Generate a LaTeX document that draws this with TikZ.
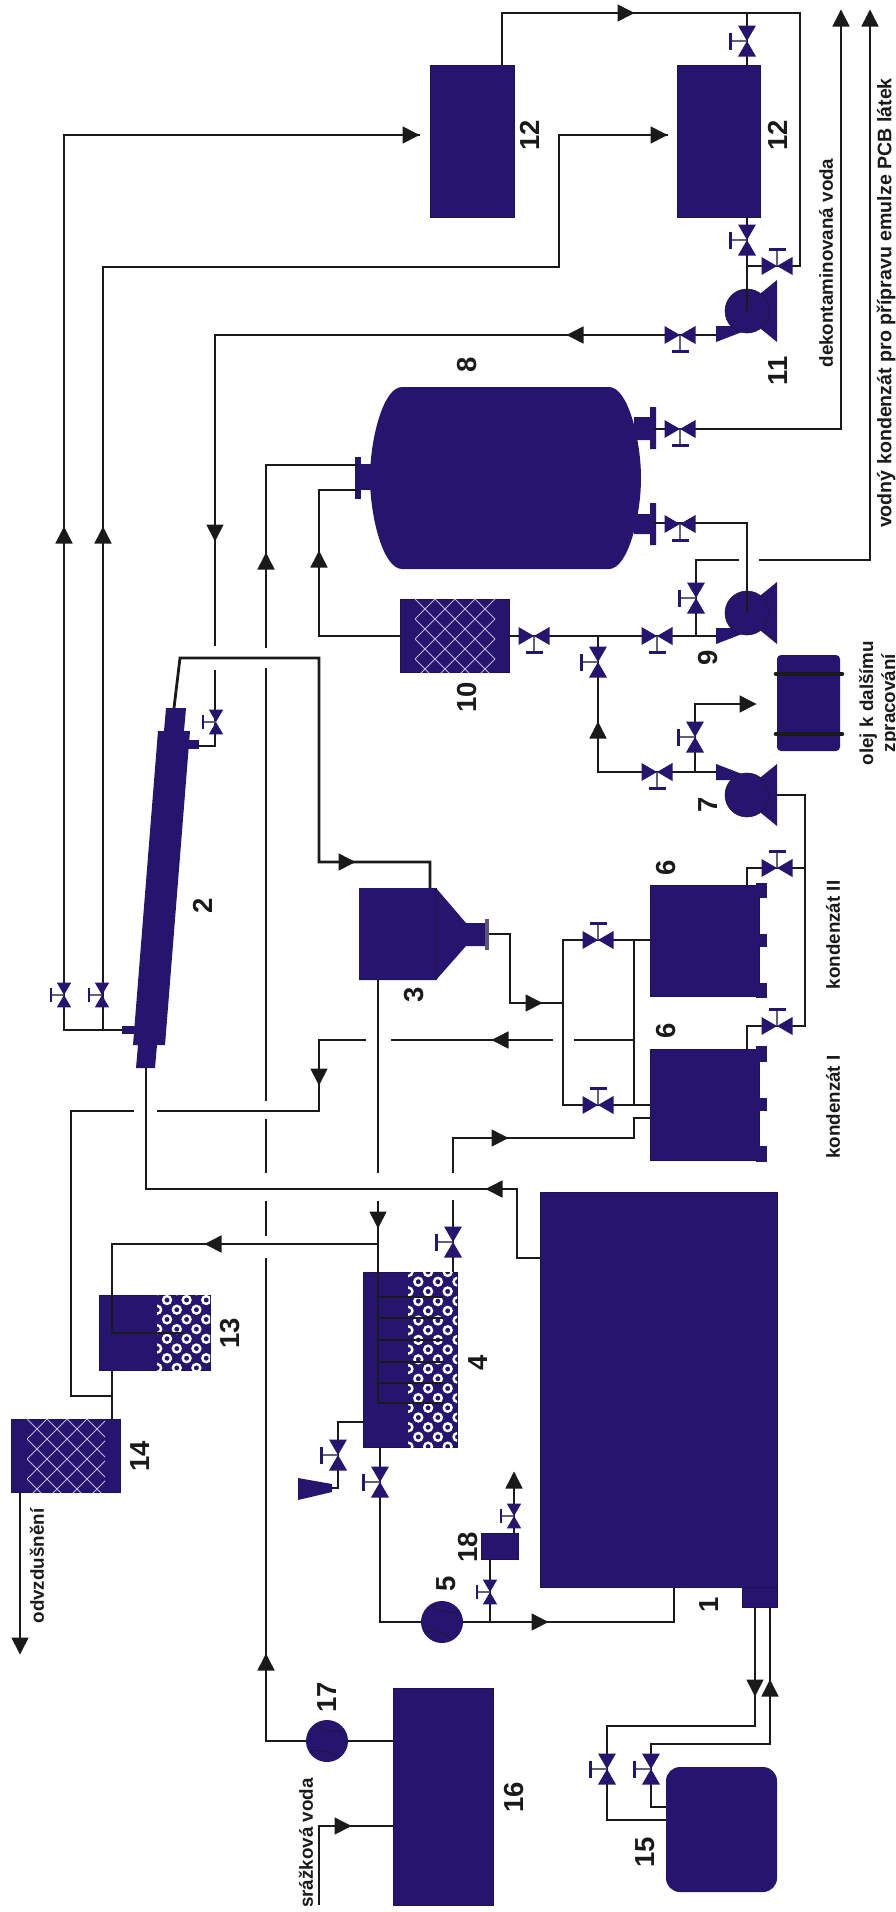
\documentclass[tikz,border=0pt]{standalone}
\usepackage{fontspec}
\setmainfont{Liberation Sans}
\definecolor{navy}{HTML}{26156E}
\definecolor{ink}{HTML}{1A1A1A}
\definecolor{mesh}{HTML}{BDB7E2}
\tikzset{
  pipe/.style={draw=ink,line width=2.8pt,line join=miter},
  tankbox/.style={fill=navy,draw=navy!80!black,line width=.6pt,inner sep=0pt,outer sep=0pt},
  num/.style={font=\bfseries\fontsize{27.5}{27.5}\selectfont,text=ink,rotate=90,inner sep=0pt},
  captext/.style={font=\bfseries\fontsize{18.8}{22}\selectfont,text=ink,rotate=90,inner sep=0pt,align=center},
}
% name, x1, y1, x2, y2
\newcommand\tank[5]{%
  \pgfmathsetmacro\tw{#4-#2}\pgfmathsetmacro\th{#5-#3}%
  \pgfmathsetmacro\tcx{(#2+#4)/2}\pgfmathsetmacro\tcy{(#3+#5)/2}%
  \node[tankbox,minimum width=\tw pt,minimum height=\th pt] (#1) at (\tcx,\tcy) {};}
% name, x, y, rotation, scale
\newcommand\valve[5]{%
  \begin{scope}[shift={(#2,#3)},rotate=#4,scale=#5]
    \coordinate (#1) at (0,0);
    \draw[line width=1.2pt,draw=gray!70!navy] (0,0) -- (-16,0);
    \fill[navy] (-9,-15.5) -- (9,-15.5) -- (0,0) -- cycle;
    \fill[navy] (-9,15.5) -- (9,15.5) -- (0,0) -- cycle;
    \fill[navy] (-18,-8.5) rectangle (-15,8.5);
  \end{scope}}
% name, x, y, mirror(1 or -1)
\newcommand\pump[4]{%
  \begin{scope}[shift={(#2,#3)},yscale=#4]
    \coordinate (#1) at (0,0);
    \fill[navy] (30,-31) -- (30,31) -- (-8,0) -- cycle;
    \fill[navy] (-31,15) -- (-15,15) -- (-5,21) -- (-31,31) -- cycle;
    \fill[navy] (0,0) circle (22);
    \draw[ink!60!navy,line width=.6pt] (0,0) circle (22);
  \end{scope}}
% x, y, angle (0 right, 90 down in the picture)
\newcommand\arr[3]{\begin{scope}[shift={(#1,#2)},rotate=-#3]\fill[ink] (-8.5,-8.7) -- (8.5,0) -- (-8.5,8.7) -- cycle;\end{scope}}
\newcommand\hatch[4]{%
  \begin{scope}
    \clip (#1,#2) rectangle (#3,#4);
    \foreach \k in {-8,...,14}{
      \draw[mesh,line width=1pt] (#1+\k*20,#2) -- ++(120,120);
      \draw[mesh,line width=1pt] (#1+\k*20,#2) -- ++(-120,120);
    }
  \end{scope}}
\newcommand\rings[6]{% x1 y1 x2 y2 x0 y0
  \begin{scope}
    \clip (#1,#2) rectangle (#3,#4);
    \foreach \c in {-1,...,6}{
      \pgfmathsetmacro\rx{#5+\c*9.8}
      \pgfmathsetmacro\off{mod(\c+10,2)*9.7}
      \foreach \r in {-1,...,10}{
        \pgfmathsetmacro\ry{#6+\off+\r*19.4}
        \draw[white,line width=2.4pt] (\rx,\ry) circle (3.9);
      }
    }
  \end{scope}}
\begin{document}
\begin{tikzpicture}[x=1pt,y=-1pt]
\useasboundingbox (0,0) rectangle (896,1912);
\fill[white] (0,0) rectangle (896,1912);

% ---------- vessels
\tank{t12a}{430}{65}{514}{217}
\tank{t12b}{677}{65}{760}{217}
\tank{t10}{400}{599}{509}{672}
\hatch{415}{599}{495}{672}
\tank{t1}{540}{1192}{777}{1587}
\tank{t1box}{742}{1587}{777}{1607}
\tank{t16}{393}{1688}{493}{1905}
\tank{t18}{481}{1533}{518}{1559}
\tank{t6a}{650}{885}{759}{996}
\tank{t6b}{650}{1049}{759}{1160}
\foreach \a/\b in {883/898,934/947,983/998,1046/1062,1098/1111,1146/1162}{
  \fill[navy] (756,\a) rectangle (767,\b);}
\tank{t4}{363}{1272}{457}{1447}
\rings{408}{1272}{457}{1447}{418.3}{1281.7}
\tank{t13}{99}{1295}{210}{1370}
\rings{157}{1295}{210}{1370}{167}{1300}
\tank{t14}{11}{1419}{120}{1492}
\hatch{27}{1419}{105}{1492}
\node[fill=navy,rounded corners=14pt,minimum width=111pt,minimum height=125pt,inner sep=0pt,outer sep=0pt] (t15) at (721.5,1829.5) {};
\node[fill=navy,rounded corners=4pt,minimum width=63pt,minimum height=96pt,inner sep=0pt,outer sep=0pt] (drum) at (808.5,703) {};
\draw[ink,line width=4.6pt,line cap=round] (776,674) -- (842,674) (776,734) -- (842,734);
% tank 8
\fill[navy] (402,387) -- (609,387) .. controls (628,387) and (641,440) .. (641,478)
  .. controls (641,516) and (628,569) .. (609,569) -- (402,569)
  .. controls (383,569) and (370,516) .. (370,478) .. controls (370,440) and (383,387) .. (402,387) -- cycle;
\coordinate (t8a) at (358,465);
\coordinate (t8b) at (358,490);
\fill[navy] (361,464) rectangle (372,490);
\fill[navy] (355,457) rectangle (361,499);
\fill[navy] (634,417) rectangle (650,440) (650,407) rectangle (656,449);
\fill[navy] (634,514) rectangle (650,534) (650,503) rectangle (656,545);
% tank 3
\fill[navy] (359,888) -- (436,888) -- (466,923) -- (486,923) -- (486,946) -- (466,946) -- (436,980) -- (359,980) -- cycle;
\draw[ink!60!navy,line width=.6pt] (436,888) -- (436,980);
\fill[gray!60!navy] (485,919) rectangle (489,950);
\coordinate (t3top) at (430,888);
\coordinate (t3out) at (489,934);
% exchanger 2
\fill[navy] (166,708) -- (186,708) -- (184,731) -- (190,731) -- (165,1045) -- (157,1045) -- (155,1068) -- (136,1068) -- (138,1045) -- (133,1045) -- (158,731) -- (164,731) -- cycle;
\fill[navy] (188,740) rectangle (199,749);
\fill[navy] (122,1026) rectangle (135,1034);
% funnel
\fill[navy] (298,1478) -- (332,1484) -- (332,1492) -- (298,1500) -- cycle;

% ---------- named ports
\coordinate (e2top) at (174,708);
\coordinate (e2bot) at (146,1068);
\coordinate (e2n1) at (199,746);
\coordinate (e2n2) at (122,1030);
\coordinate (j1) at (747,13);
\coordinate (j6) at (634,1040);
\coordinate (j7) at (805,868);
\coordinate (j13) at (112,1396);
\coordinate (j8) at (696,636);
\coordinate (j10) at (598,636);
\coordinate (j7o) at (695,772);
\coordinate (j5) at (490,1622);

% ---------- pipes
\draw[pipe] (502,65) -- (502,13) -- (800,13) -- (800,266) -- (747,266);
\draw[pipe] (j1) -- (747,65);
\draw[pipe] (747,217) -- (747,311);
\draw[pipe] (716,335) -- (215,335) -- (215,646);
\draw[pipe] (215,670) -- (215,746) -- (e2n1);
\draw[pipe] (e2n2) -- (64,1030) -- (64,135) -- (420,135);
\draw[pipe] (103,1030) -- (103,267) -- (559,267) -- (559,135) -- (668,135);
\draw[pipe] (e2top) -- (180,658) -- (319,658) -- (319,862) -- (430,862) -- (t3top);
\draw[pipe] (e2bot) -- (146,1189) -- (517,1189) -- (517,1258) -- (540,1258);
% cooling water
\draw[pipe] (t8a) -- (266,465) -- (266,648);
\draw[pipe] (266,668) -- (266,1101);
\draw[pipe] (266,1119) -- (266,1173);
\draw[pipe] (266,1201) -- (266,1236);
\draw[pipe] (266,1258) -- (266,1741) -- (393,1741);
\draw[pipe] (t8b) -- (319,490) -- (319,636) -- (400,636);
% 9, 10, 8
\draw[pipe] (509,636) -- (716,636);
\draw[pipe] (j10) -- (598,772) -- (716,772);
\draw[pipe] (j8) -- (696,560) -- (739,560);
\draw[pipe] (759,560) -- (870,560) -- (870,18);
\draw[pipe] (747,613) -- (747,523) -- (654,523);
\draw[pipe] (654,429) -- (841,429) -- (841,18);
% 7
\draw[pipe] (j7o) -- (695,704) -- (745,704);
\draw[pipe] (777,795) -- (805,795) -- (805,1026) -- (747,1026) -- (747,1049);
\draw[pipe] (j7) -- (747,868) -- (747,885);
% 3 to 6
\draw[pipe] (t3out) -- (510,934) -- (510,1003) -- (563,1003);
\draw[pipe] (650,940) -- (563,940) -- (563,1105) -- (650,1105);
\draw[pipe] (634,940) -- (634,1105);
\draw[pipe] (j6) -- (574,1040);
\draw[pipe] (553,1040) -- (391,1040);
\draw[pipe] (366,1040) -- (319,1040) -- (319,1111) -- (157,1111);
\draw[pipe] (134,1111) -- (71,1111) -- (71,1396) -- (j13);
% 3 to 4
\draw[pipe] (378,980) -- (378,1173);
\draw[pipe] (378,1201) -- (378,1403);
\foreach \yy in {1297,1318,1340,1362,1383,1403}{\draw[pipe,line width=2.2pt] (378,\yy) -- (443,\yy);}
\draw[pipe] (378,1244) -- (112,1244) -- (112,1333) -- (183,1333);
\draw[pipe] (112,1370) -- (112,1419);
\draw[pipe] (650,1118) -- (634,1118) -- (634,1138) -- (453,1138) -- (453,1173);
\draw[pipe] (453,1200) -- (453,1272);
\draw[pipe] (20,1492) -- (20,1640);
% 4, 5, 18, 1
\draw[pipe] (380,1447) -- (380,1622) -- (674,1622) -- (674,1587);
\draw[pipe] (j5) -- (490,1559);
\draw[pipe] (514,1533) -- (514,1485);
\draw[pipe] (363,1422) -- (338,1422) -- (338,1488) -- (332,1488);
% 1, 15
\draw[pipe] (755,1607) -- (755,1726) -- (607,1726) -- (607,1820) -- (666,1820);
\draw[pipe] (770,1607) -- (770,1744) -- (651,1744) -- (651,1807) -- (666,1807);
% 16
\draw[pipe] (393,1826) -- (319,1826) -- (319,1905);

% ---------- pumps
\pump{p11}{747}{311}{1}
\pump{p9}{747}{613}{1}
\pump{p7}{747}{795}{-1}
\draw[pipe] (747,289) -- (747,311);
\draw[pipe] (747,591) -- (747,613);
\foreach \n/\x/\y in {p5/442/1622,p17/327/1741}{
  \coordinate (\n) at (\x,\y);
  \fill[navy] (\x,\y) circle (21);
  \draw[ink!70!navy,line width=.8pt] (\x-17,\y+10) .. controls (\x-6,\y+8) and (\x+6,\y+12) .. (\x+10,\y+17);
  \draw[ink!70!navy,line width=.8pt] (\x+17,\y-10) .. controls (\x+6,\y-8) and (\x-6,\y-12) .. (\x-10,\y-17);
}

% ---------- valves
\valve{v1}{747}{41}{0}{1}
\valve{v2}{747}{240}{0}{1}
\valve{v3}{777}{266}{-90}{1}
\valve{v4}{680}{335}{90}{1}
\valve{v5}{680}{429}{90}{1}
\valve{v6}{680}{524}{90}{1}
\valve{v7}{696}{598}{0}{1}
\valve{v8}{534}{636}{90}{1}
\valve{v9}{657}{636}{90}{1}
\valve{v10}{598}{662}{0}{1}
\valve{v11}{657}{772}{90}{1}
\valve{v12}{695}{737}{0}{1}
\valve{v13}{777}{868}{-90}{1}
\valve{v14}{777}{1026}{-90}{1}
\valve{v15}{598}{940}{-90}{1}
\valve{v16}{598}{1105}{-90}{1}
\valve{v17}{216}{722}{0}{.8}
\valve{v18}{64}{995}{0}{.8}
\valve{v19}{102}{995}{0}{.8}
\valve{v20}{453}{1242}{0}{1}
\valve{v21}{338}{1455}{0}{1}
\valve{v22}{380}{1482}{0}{1}
\valve{v23}{514}{1516}{0}{.8}
\valve{v24}{490}{1592}{0}{.8}
\valve{v25}{607}{1769}{0}{1}
\valve{v26}{651}{1769}{0}{1}

% ---------- arrows
\arr{626}{13}{0}
\arr{575}{335}{180}
\arr{411}{135}{0}
\arr{659}{135}{0}
\arr{215}{533}{90}
\arr{64}{535}{-90}
\arr{103}{535}{-90}
\arr{266}{561}{-90}
\arr{319}{559}{-90}
\arr{347}{862}{0}
\arr{534}{1003}{0}
\arr{500}{1040}{180}
\arr{319}{1077}{90}
\arr{500}{1138}{0}
\arr{494}{1189}{180}
\arr{378}{1220}{90}
\arr{213}{1244}{180}
\arr{841}{18}{-90}
\arr{870}{18}{-90}
\arr{598}{730}{-90}
\arr{748}{704}{0}
\arr{20}{1646}{90}
\arr{266}{1662}{-90}
\arr{540}{1622}{0}
\arr{755}{1688}{90}
\arr{770}{1688}{-90}
\arr{343}{1826}{0}
\arr{514}{1480}{-90}

% ---------- numbers
\node[num] (n12a) at (530,135) {12};
\node[num] (n12b) at (778,135) {12};
\node[num] (n8) at (467,365) {8};
\node[num] (n11) at (778,371) {11};
\node[num] (n9) at (708,658) {9};
\node[num] (n10) at (467,697) {10};
\node[num] (n7) at (708,805) {7};
\node[num] (n6a) at (666,868) {6};
\node[num] (n6b) at (666,1031) {6};
\node[num] (n3) at (414,995) {3};
\node[num] (n2) at (203,906) {2};
\node[num] (n4) at (478,1363) {4};
\node[num] (n13) at (230,1333) {13};
\node[num] (n14) at (140,1456) {14};
\node[num] (n18) at (468,1547) {18};
\node[num] (n5) at (446,1584) {5};
\node[num] (n1) at (709,1605) {1};
\node[num] (n17) at (327,1697) {17};
\node[num] (n16) at (514,1797) {16};
\node[num] (n15) at (645,1852) {15};

% ---------- captions
\node[captext] (c1) at (826,263) {dekontaminovaná voda};
\node[captext,font=\bfseries\fontsize{19.6}{22}\selectfont] (c2) at (886,303) {vodný kondenzát pro přípravu emulze PCB látek};
\node[captext] (c3) at (879,703) {olej k dalšímu\\zpracování};
\node[captext] (c4) at (833,935) {kondenzát II};
\node[captext] (c5) at (833,1107) {kondenzát I};
\node[captext] (c6) at (37,1566) {odvzdušnění};
\node[captext] (c7) at (306,1843) {srážková voda};
\end{tikzpicture}
\end{document}
